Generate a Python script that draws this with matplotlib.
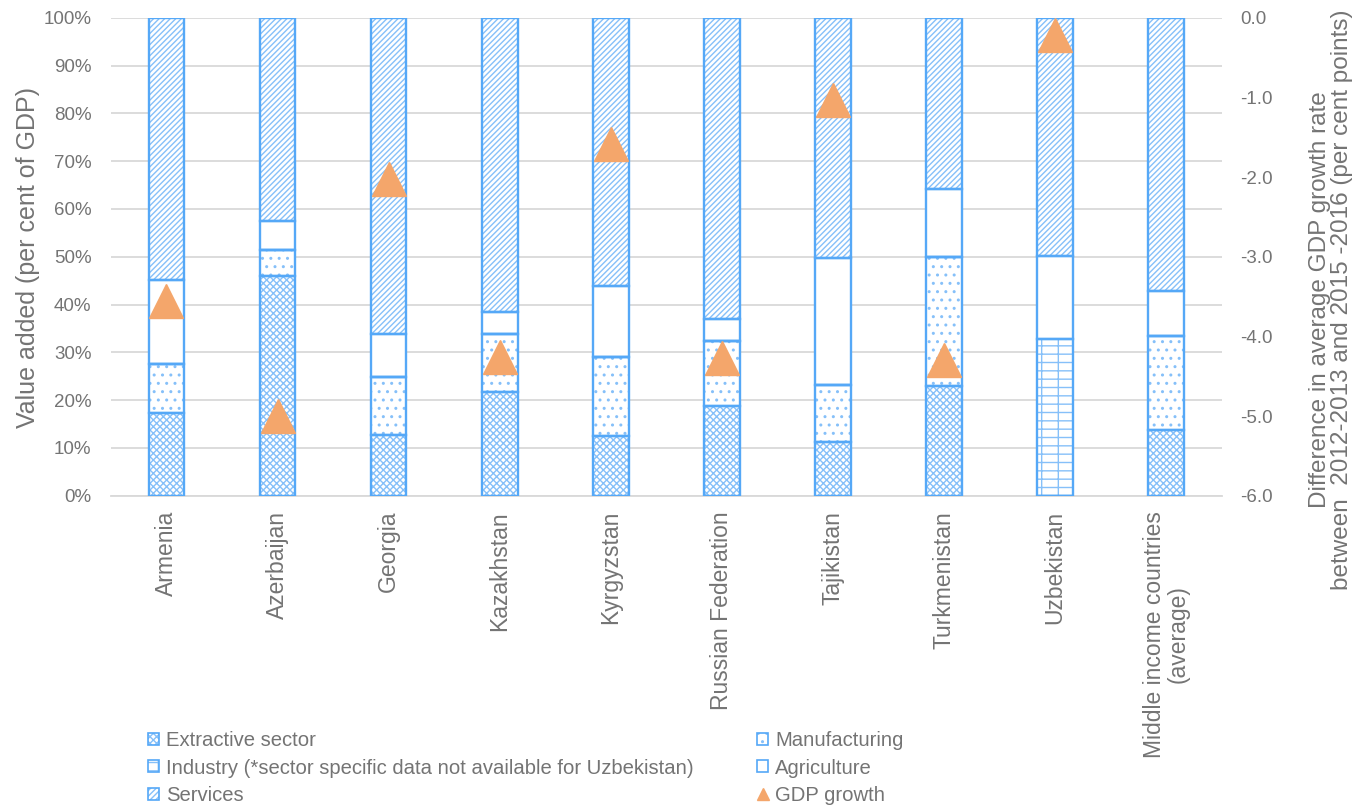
import matplotlib
matplotlib.use("Agg")
import matplotlib.pyplot as plt
import numpy as np
from matplotlib.patches import Patch
from matplotlib.lines import Line2D

categories = ["Armenia", "Azerbaijan", "Georgia", "Kazakhstan", "Kyrgyzstan",
              "Russian Federation", "Tajikistan", "Turkmenistan", "Uzbekistan",
              "Middle income countries\n(average)"]
extractive = [17.3, 46.0, 12.8, 21.8, 12.6, 18.8, 11.3, 23.0, 0.0, 13.8]
manufacturing = [10.2, 5.5, 12.1, 12.1, 16.5, 13.6, 11.9, 27.0, 0.0, 19.7]
industry = [0.0, 0.0, 0.0, 0.0, 0.0, 0.0, 0.0, 0.0, 32.8, 0.0]
agriculture = [17.7, 6.0, 9.0, 4.6, 14.8, 4.6, 26.6, 14.2, 17.4, 9.4]
services = [54.8, 42.5, 66.1, 61.5, 56.1, 63.0, 50.2, 35.8, 49.8, 57.1]
gdp_growth = [-3.55, -5.0, -2.02, -4.26, -1.58, -4.27, -1.03, -4.3, -0.22, np.nan]

plt.rcParams['font.family'] = ['Liberation Sans', 'DejaVu Sans']
plt.rcParams['hatch.linewidth'] = 1.0
TXT = '#747474'
EDGE = '#55a8f7'
HATCH = '#86c0f9'

fig = plt.figure(figsize=(13.53, 8.10), dpi=100)
ax = fig.add_axes([0.082, 0.388, 0.821, 0.590])
x = np.arange(len(categories))
w = 0.32

series = [
    ("Extractive sector", extractive, 'xxxxx'),
    ("Manufacturing", manufacturing, '..'),
    ("Industry (*sector specific data not available for Uzbekistan)", industry, '--|'),
    ("Agriculture", agriculture, ''),
    ("Services", services, '//////'),
]
bottom = np.zeros(len(categories))
handles = {}
for name, vals, hatch in series:
    v = np.array(vals)
    ax.bar(x, v, w, bottom=bottom, facecolor='white', edgecolor=HATCH,
           hatch=hatch, linewidth=0, zorder=3)
    ax.bar(x, v, w, bottom=bottom, fill=False, edgecolor=EDGE,
           linewidth=1.7, zorder=4)
    handles[name] = (Patch(facecolor='white', edgecolor=HATCH, hatch=hatch, linewidth=0),
                     Patch(fill=False, edgecolor=EDGE, linewidth=1.2))
    bottom += v

ax.set_ylim(0, 100)
ax.set_xlim(-0.5, len(categories) - 0.5)
ax.set_yticks(np.arange(0, 101, 10))
ax.set_yticklabels([f"{v}%" for v in range(0, 101, 10)])
ax.yaxis.grid(True, color='#d9d9d9', linewidth=1.3, zorder=0)
ax.set_axisbelow(True)
for s in ['top', 'right', 'left']:
    ax.spines[s].set_visible(False)
ax.spines['bottom'].set_color('#d9d9d9')
ax.spines['bottom'].set_linewidth(1.3)
ax.tick_params(axis='y', length=0, labelsize=13.5, labelcolor=TXT, pad=14)
ax.tick_params(axis='x', length=0, labelcolor=TXT, pad=11)
ax.set_xticks(x)
ax.set_xticklabels(categories, rotation=90, va='top', ha='center', fontsize=16.5,
                   linespacing=1.0)
fig.text(28 / 1353, 1 - 257 / 810, "Value added (per cent of GDP)", rotation=90,
         ha='center', va='center', fontsize=18, color=TXT)

ax2 = ax.twinx()
ax2.set_ylim(-6, 0)
ax2.set_yticks(np.arange(-6, 0.1, 1))
ax2.set_yticklabels([f"{v:.1f}" for v in np.arange(-6, 0.1, 1)])
for s in ax2.spines.values():
    s.set_visible(False)
ax2.tick_params(axis='y', length=0, labelsize=13.5, labelcolor=TXT, pad=13)
ax2.plot(x, gdp_growth, linestyle='none', marker='^', markersize=24,
         color='#f4a66b', zorder=5)
fig.text(1331 / 1353, 1 - 300 / 810,
         "Difference in average GDP growth rate\nbetween  2012-2013 and 2015 -2016 (per cent points)",
         rotation=90, ha='center', va='center', fontsize=17.5, color=TXT,
         linespacing=1.05)

gdp_handle = Line2D([], [], linestyle='none', marker='^', markersize=8, color='#f4a66b')
kw = dict(loc='upper left', frameon=False, fontsize=14.6, handlelength=0.55,
          handleheight=0.55, handletextpad=0.35, labelspacing=0.42, borderpad=0,
          borderaxespad=0, labelcolor=TXT)
ind = "Industry (*sector specific data not available for Uzbekistan)"
fig.legend([handles["Extractive sector"], handles[ind], handles["Services"]],
           ["Extractive sector", ind, "Services"],
           bbox_to_anchor=(148 / 1353, 1 - 731 / 810), **kw)
fig.legend([handles["Manufacturing"], handles["Agriculture"], gdp_handle],
           ["Manufacturing", "Agriculture", "GDP growth"],
           bbox_to_anchor=(757 / 1353, 1 - 731 / 810), **kw)

fig.savefig("out.png", dpi=100)
